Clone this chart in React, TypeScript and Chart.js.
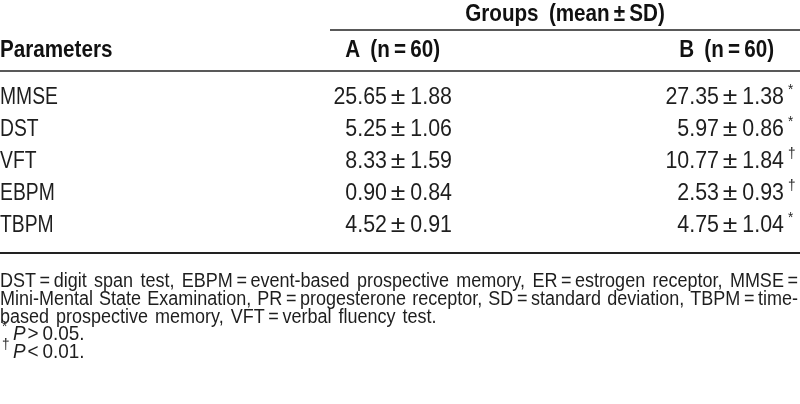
import { useEffect, useRef } from "react";
import { Chart, registerables } from "chart.js";

Chart.register(...registerables);

// ---- table content ----
const headerTitle = "Groups\u2002(mean\u2009±\u2009SD)";
const firstColumnTitle = "Parameters";
const groupLabels = ["A\u2002(n\u2009=\u200960)", "B\u2002(n\u2009=\u200960)"];
const parameters = ["MMSE", "DST", "VFT", "EBPM", "TBPM"];
const groupAMean = [25.65, 5.25, 8.33, 0.9, 4.52];
const groupASD = [1.88, 1.06, 1.59, 0.84, 0.91];
const groupBMean = [27.35, 5.97, 10.77, 2.53, 4.75];
const groupBSD = [1.38, 0.86, 1.84, 0.93, 1.04];
const groupBMarks = ["*", "*", "†", "†", "*"];
const footnoteLines = [
  "DST\u2009=\u2009digit span test, EBPM\u2009=\u2009event-based prospective memory, ER\u2009=\u2009estrogen receptor, MMSE\u2009=",
  "Mini-Mental State Examination, PR\u2009=\u2009progesterone receptor, SD\u2009=\u2009standard deviation, TBPM\u2009=\u2009time-",
  "based prospective memory, VFT\u2009=\u2009verbal fluency test.",
];
const justifiedLines = [true, true, false];
const noteMarks = ["*", "†"];
const noteOps = [">", "<"];
const noteValues = ["0.05", "0.01"];

// ---- layout (pixel units of the hidden linear scales) ----
const L = {
  width: 800,
  height: 404,
  groupTitleX: 565,
  groupTitleY: 21,
  groupRuleY: 30,
  groupRuleX0: 330,
  headerY: 57,
  headerRuleY: 71,
  colAHeaderRight: 440,
  colBHeaderRight: 774,
  colAPM: 398,
  colARight: 452,
  colBPM: 730,
  colBRight: 784,
  pmGap: 11,
  rowY0: 104,
  rowStep: 32,
  bottomRuleY: 253,
  footY0: 287,
  footStep: 17.8,
  footRight: 798,
};

const FONT = '"Liberation Sans", Arial, sans-serif';
const SX_HEAD = 0.86;
const SX_LABEL = 0.84;
const SX_NUM = 0.93;
const SX_PM = 1.15;
const SX_FOOT = 0.9;

function txt(ctx: any, s: string, x: number, y: number, align: string, sx: number) {
  ctx.save();
  ctx.translate(x, y);
  ctx.scale(sx, 1);
  ctx.textAlign = align;
  ctx.fillText(s, 0, 0);
  ctx.restore();
}

const tablePlugin = {
  id: "tablePlugin",
  afterDraw(chart: any) {
    const ctx: any = chart.ctx;
    const xs = chart.scales.x;
    const ys = chart.scales.y;
    const X = (v: number) => xs.getPixelForValue(v);
    const Y = (v: number) => ys.getPixelForValue(v);
    ctx.save();
    ctx.textBaseline = "alphabetic";

    // rules
    const rule = (x0: number, x1: number, y: number, w: number) => {
      ctx.beginPath();
      ctx.strokeStyle = "#222";
      ctx.lineWidth = w;
      ctx.moveTo(X(x0), Y(y));
      ctx.lineTo(X(x1), Y(y));
      ctx.stroke();
    };
    rule(L.groupRuleX0, L.width, L.groupRuleY, 1.5);
    rule(0, L.width, L.headerRuleY, 1.5);
    rule(0, L.width, L.bottomRuleY, 2);

    // headers
    ctx.fillStyle = "#111";
    ctx.font = `bold 24px ${FONT}`;
    txt(ctx, headerTitle, X(L.groupTitleX), Y(L.groupTitleY), "center", SX_HEAD);
    txt(ctx, firstColumnTitle, X(0), Y(L.headerY), "left", SX_HEAD);
    txt(ctx, groupLabels[0], X(L.colAHeaderRight), Y(L.headerY), "right", SX_HEAD);
    txt(ctx, groupLabels[1], X(L.colBHeaderRight), Y(L.headerY), "right", SX_HEAD);

    // body
    const cell = (mean: number, sd: number, pm: number, right: number, y: number) => {
      txt(ctx, mean.toFixed(2), X(pm - L.pmGap), y, "right", SX_NUM);
      txt(ctx, "±", X(pm), y, "center", SX_PM);
      txt(ctx, sd.toFixed(2), X(right), y, "right", SX_NUM);
    };
    ctx.fillStyle = "#1e1e1e";
    parameters.forEach((p, i) => {
      const y = Y(L.rowY0 + i * L.rowStep);
      ctx.font = `23px ${FONT}`;
      txt(ctx, p, X(0), y, "left", SX_LABEL);
      cell(groupAMean[i], groupASD[i], L.colAPM, L.colARight, y);
      cell(groupBMean[i], groupBSD[i], L.colBPM, L.colBRight, y);
      ctx.font = `15px ${FONT}`;
      txt(ctx, groupBMarks[i], X(L.colBRight + 4), y - 10, "left", 0.9);
    });

    // footnotes
    ctx.font = `20px ${FONT}`;
    footnoteLines.forEach((line, i) => {
      const y = Y(L.footY0 + i * L.footStep);
      const words = line.split(" ");
      const widths = words.map((w) => ctx.measureText(w).width * SX_FOOT);
      const total = widths.reduce((a, b) => a + b, 0);
      const gap = justifiedLines[i] ? (X(L.footRight) - X(0) - total) / (words.length - 1) : 7;
      let x = X(0);
      words.forEach((w, k) => {
        txt(ctx, w, x, y, "left", SX_FOOT);
        x += widths[k] + gap;
      });
    });
    noteMarks.forEach((m, i) => {
      const y = Y(L.footY0 + (3 + i) * L.footStep);
      ctx.font = `15px ${FONT}`;
      txt(ctx, m, X(2), y - 9, "left", 0.9);
      ctx.font = `italic 21px ${FONT}`;
      txt(ctx, "P", X(13), y, "left", SX_FOOT);
      const pw = ctx.measureText("P").width * SX_FOOT;
      ctx.font = `21px ${FONT}`;
      txt(ctx, `${noteOps[i]}\u2009${noteValues[i]}.`, X(13) + pw + 2, y, "left", SX_FOOT);
    });
    ctx.restore();
  },
};

export default function App() {
  const ref = useRef<HTMLCanvasElement>(null);
  useEffect(() => {
    document.body.style.margin = "0";
    if (!ref.current) return;
    const chart = new Chart(ref.current, {
      type: "scatter",
      data: {
        datasets: [
          {
            label: "rows",
            data: parameters.map((_, i) => ({ x: 0, y: L.rowY0 + i * L.rowStep })),
            pointRadius: 0,
          },
        ],
      },
      options: {
        animation: false,
        responsive: false,
        maintainAspectRatio: false,
        layout: { padding: 0 },
        plugins: { legend: { display: false }, tooltip: { enabled: false }, title: { display: false } },
        scales: {
          x: { type: "linear", min: 0, max: L.width, display: false },
          y: { type: "linear", min: 0, max: L.height, reverse: true, display: false },
        },
      },
      plugins: [tablePlugin],
    });
    return () => chart.destroy();
  }, []);
  return (
    <div style={{ width: L.width, height: L.height, background: "#fff" }}>
      <canvas ref={ref} width={L.width} height={L.height} />
    </div>
  );
}
